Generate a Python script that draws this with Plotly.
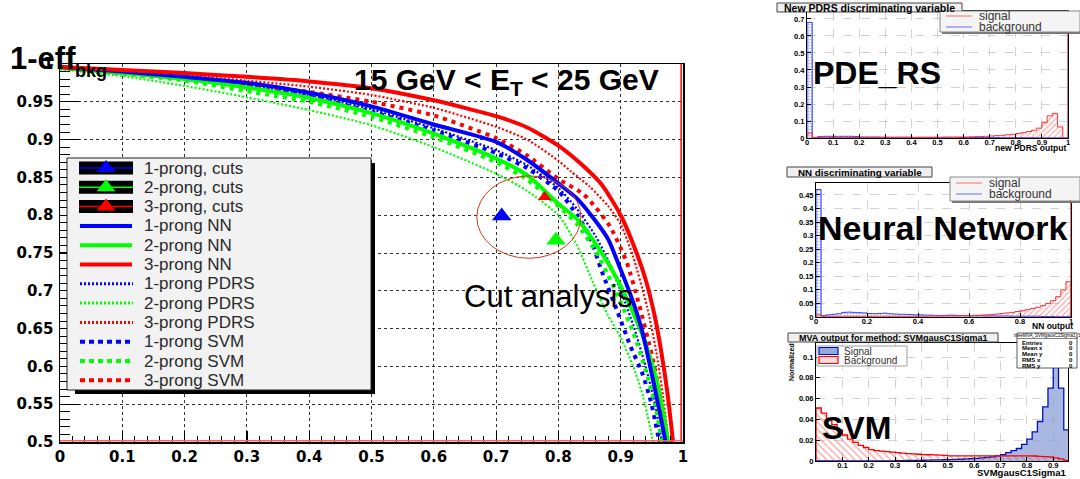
import plotly.graph_objects as go

W, H = 1080, 479

# ---------------- main ROC data (signal efficiency vs 1 - background efficiency) -------------
nn1_x = [0, 0.1, 0.2, 0.3, 0.4, 0.5, 0.6, 0.7, 0.75, 0.8, 0.83, 0.86, 0.88, 0.9, 0.92, 0.935, 0.955, 0.965, 0.972]
nn1_y = [0.996, 0.99, 0.983, 0.975, 0.962, 0.944, 0.92, 0.897, 0.873, 0.842, 0.822, 0.792, 0.768, 0.728, 0.685, 0.645, 0.57, 0.53, 0.5]
nn2_x = [0, 0.1, 0.2, 0.3, 0.4, 0.5, 0.6, 0.7, 0.75, 0.8, 0.83, 0.86, 0.89, 0.92, 0.94, 0.955, 0.967, 0.976]
nn2_y = [0.995, 0.988, 0.98, 0.969, 0.955, 0.935, 0.908, 0.875, 0.853, 0.815, 0.795, 0.762, 0.722, 0.671, 0.63, 0.59, 0.545, 0.5]
nn3_x = [0, 0.1, 0.2, 0.3, 0.4, 0.5, 0.6, 0.7, 0.75, 0.8, 0.84, 0.87, 0.9, 0.92, 0.94, 0.955, 0.965, 0.975, 0.984]
nn3_y = [0.996, 0.992, 0.988, 0.983, 0.977, 0.968, 0.952, 0.931, 0.916, 0.892, 0.865, 0.84, 0.8, 0.762, 0.715, 0.665, 0.62, 0.565, 0.5]

pdrs1_x = [0, 0.1, 0.2, 0.3, 0.4, 0.5, 0.6, 0.7, 0.75, 0.8, 0.83, 0.86, 0.88, 0.9, 0.92, 0.94, 0.955, 0.966]
pdrs1_y = [0.995, 0.989, 0.981, 0.972, 0.959, 0.94, 0.915, 0.886, 0.866, 0.836, 0.808, 0.772, 0.74, 0.7, 0.655, 0.6, 0.55, 0.5]
pdrs2_x = [0, 0.1, 0.2, 0.3, 0.4, 0.5, 0.6, 0.7, 0.75, 0.8, 0.83, 0.856, 0.878, 0.9, 0.92, 0.936, 0.952]
pdrs2_y = [0.993, 0.984, 0.971, 0.956, 0.939, 0.919, 0.89, 0.855, 0.832, 0.8, 0.76, 0.71, 0.67, 0.638, 0.6, 0.56, 0.5]
pdrs3_x = [0, 0.1, 0.2, 0.3, 0.4, 0.5, 0.6, 0.7, 0.75, 0.8, 0.82, 0.85, 0.88, 0.9, 0.92, 0.942, 0.957, 0.968, 0.977]
pdrs3_y = [0.995, 0.99, 0.985, 0.978, 0.97, 0.959, 0.942, 0.917, 0.9, 0.872, 0.858, 0.838, 0.812, 0.788, 0.745, 0.68, 0.62, 0.56, 0.5]

svm1_x = [0, 0.1, 0.2, 0.3, 0.4, 0.5, 0.6, 0.7, 0.75, 0.8, 0.83, 0.85, 0.87, 0.895, 0.915, 0.935, 0.948, 0.956, 0.962]
svm1_y = [0.995, 0.988, 0.98, 0.97, 0.957, 0.937, 0.912, 0.882, 0.862, 0.832, 0.8, 0.772, 0.725, 0.672, 0.628, 0.59, 0.555, 0.525, 0.5]
svm2_x = [0, 0.1, 0.2, 0.3, 0.4, 0.5, 0.6, 0.7, 0.75, 0.8, 0.83, 0.86, 0.88, 0.9, 0.92, 0.94, 0.955, 0.966]
svm2_y = [0.995, 0.987, 0.978, 0.964, 0.95, 0.93, 0.903, 0.87, 0.847, 0.812, 0.788, 0.752, 0.72, 0.685, 0.645, 0.595, 0.55, 0.5]
svm3_x = [0, 0.1, 0.2, 0.3, 0.4, 0.5, 0.6, 0.7, 0.75, 0.8, 0.84, 0.86, 0.883, 0.91, 0.93, 0.95, 0.963, 0.972]
svm3_y = [0.995, 0.988, 0.981, 0.973, 0.963, 0.95, 0.932, 0.902, 0.879, 0.848, 0.828, 0.81, 0.785, 0.737, 0.68, 0.615, 0.56, 0.5]

cut_x = [0.709, 0.796, 0.778]
cut_y = [0.799, 0.767, 0.824]

legend_labels = ["1-prong, cuts", "2-prong, cuts", "3-prong, cuts",
                 "1-prong NN", "2-prong NN", "3-prong NN",
                 "1-prong PDRS", "2-prong PDRS", "3-prong PDRS",
                 "1-prong SVM", "2-prong SVM", "3-prong SVM"]

# ---------------- small panels: histograms ----------------
pdrs_bin = 0.02
pdrs_signal = [0.03, 0.004, 0.003, 0.003, 0.003, 0.003, 0.003, 0.003, 0.003, 0.003,
               0.003, 0.003, 0.003, 0.003, 0.003, 0.003, 0.003, 0.003, 0.003, 0.003,
               0.003, 0.004, 0.004, 0.004, 0.004, 0.004, 0.005, 0.005, 0.005, 0.006,
               0.006, 0.007, 0.008, 0.009, 0.01, 0.012, 0.014, 0.016, 0.019, 0.022,
               0.026, 0.031, 0.038, 0.046, 0.058, 0.09, 0.13, 0.145, 0.065, 0.0]
pdrs_background = [0.68, 0.002, 0.008, 0.01, 0.01, 0.01, 0.01, 0.01, 0.01, 0.009,
                   0.006, 0.006, 0.006, 0.006, 0.005, 0.005, 0.005, 0.005, 0.005, 0.005,
                   0.004, 0.004, 0.004, 0.004, 0.004, 0.004, 0.004, 0.004, 0.004, 0.003,
                   0.003, 0.003, 0.003, 0.003, 0.003, 0.003, 0.003, 0.002, 0.002, 0.002,
                   0.002, 0.002, 0.002, 0.002, 0.001, 0.001, 0.001, 0.001, 0.001, 0.0]

nn_bin = 0.02
nn_signal = [0.008, 0.003, 0.003, 0.003, 0.003, 0.003, 0.003, 0.003, 0.003, 0.003,
             0.003, 0.003, 0.003, 0.003, 0.003, 0.003, 0.003, 0.003, 0.003, 0.003,
             0.003, 0.003, 0.004, 0.004, 0.004, 0.004, 0.004, 0.004, 0.005, 0.005,
             0.005, 0.006, 0.007, 0.008, 0.009, 0.011, 0.013, 0.015, 0.017, 0.02,
             0.023, 0.027, 0.031, 0.036, 0.042, 0.05, 0.06, 0.075, 0.1, 0.13]
nn_background = [0.47, 0.005, 0.008, 0.01, 0.012, 0.017, 0.018, 0.017, 0.016, 0.015,
                 0.013, 0.012, 0.013, 0.014, 0.012, 0.011, 0.01, 0.01, 0.009, 0.008,
                 0.008, 0.007, 0.007, 0.006, 0.006, 0.006, 0.007, 0.006, 0.005, 0.005,
                 0.005, 0.005, 0.005, 0.004, 0.004, 0.004, 0.004, 0.004, 0.003, 0.003,
                 0.003, 0.003, 0.003, 0.003, 0.002, 0.002, 0.002, 0.001, 0.001, 0.001]

svm_bin = 0.02
svm_signal = [0, 0, 0, 0, 0, 0, 0, 0, 0, 0,
              0, 0, 0, 0, 0, 0.0003, 0.0003, 0.0005, 0.0005, 0.0005,
              0.0007, 0.0008, 0.001, 0.001, 0.0012, 0.0013, 0.0015, 0.0017, 0.002, 0.0022,
              0.0025, 0.003, 0.0035, 0.004, 0.005, 0.006, 0.008, 0.01, 0.012, 0.016,
              0.021, 0.028, 0.038, 0.052, 0.07, 0.092, 0.07, 0.03]
svm_background = [0.051, 0.046, 0.04, 0.035, 0.03, 0.025, 0.021, 0.018, 0.015, 0.013,
                  0.011, 0.01, 0.0095, 0.009, 0.0085, 0.008, 0.0075, 0.007, 0.0068, 0.0065,
                  0.0062, 0.006, 0.0058, 0.0056, 0.0055, 0.005, 0.005, 0.005, 0.005, 0.005,
                  0.005, 0.005, 0.005, 0.005, 0.005, 0.005, 0.005, 0.005, 0.005, 0.005,
                  0.005, 0.0048, 0.0045, 0.0042, 0.004, 0.003, 0.002, 0.0005]

stats_labels = ["Entries", "Mean x", "Mean y", "RMS x", "RMS y"]

BLUE, GREEN, RED = "#0000ff", "#00ff00", "#ff0000"
FONT = "Liberation Sans"


def step_xy(values, width):
    edges = [i * width for i in range(len(values) + 1)]
    return [edges[0]] + edges, [0] + list(values) + [0]


def P(x, y):
    return x / W, 1 - y / H


fig = go.Figure()

# ---------------- main curves ----------------
styles = {"PDRS": dict(width=2.2, dash="2px,2px"),
          "SVM": dict(width=4, dash="4px,5px"),
          "NN": dict(width=4, dash="solid")}
curves = [
    ("1-prong PDRS", pdrs1_x, pdrs1_y, BLUE, "PDRS"),
    ("2-prong PDRS", pdrs2_x, pdrs2_y, GREEN, "PDRS"),
    ("3-prong PDRS", pdrs3_x, pdrs3_y, RED, "PDRS"),
    ("1-prong SVM", svm1_x, svm1_y, BLUE, "SVM"),
    ("2-prong SVM", svm2_x, svm2_y, GREEN, "SVM"),
    ("3-prong SVM", svm3_x, svm3_y, RED, "SVM"),
    ("2-prong NN", nn2_x, nn2_y, GREEN, "NN"),
    ("1-prong NN", nn1_x, nn1_y, BLUE, "NN"),
    ("3-prong NN", nn3_x, nn3_y, RED, "NN"),
]
for name, xs, ys, col, kind in curves:
    fig.add_trace(go.Scatter(x=xs, y=ys, mode="lines", name=name, showlegend=False,
                             line=dict(color=col, shape="spline", smoothing=0.6, **styles[kind]),
                             xaxis="x", yaxis="y"))

cut_colors = [BLUE, GREEN, RED]
cut_sizes = [17, 17, 12]
fig.add_trace(go.Scatter(x=cut_x, y=cut_y, mode="markers", showlegend=False,
                         marker=dict(symbol="triangle-up", size=cut_sizes, color=cut_colors,
                                     opacity=1, line=dict(width=0)),
                         xaxis="x", yaxis="y"))

shapes = []
# ellipse around cut points
shapes.append(dict(type="circle", xref="x", yref="y", x0=0.669, x1=0.836, y0=0.743, y1=0.852,
                   line=dict(color="#d83a1a", width=1)))
# red lines on right and bottom edge
shapes.append(dict(type="line", xref="x", yref="y", x0=0.997, x1=0.997, y0=0.5, y1=1.0,
                   line=dict(color=RED, width=1.5)))
shapes.append(dict(type="line", xref="x", yref="y", x0=0, x1=1, y0=0.5015, y1=0.5015,
                   line=dict(color="#ff6060", width=1.5)))

# ---------------- custom legend (overlay pixel axes x5/y5) ----------------
shapes.append(dict(type="rect", xref="x5", yref="y5", x0=75, x1=375, y0=163, y1=394,
                   fillcolor="black", line=dict(width=0), layer="below"))
shapes.append(dict(type="rect", xref="x5", yref="y5", x0=67, x1=371, y0=158, y1=390,
                   fillcolor="#f2f2f2", line=dict(color="#222", width=1), layer="below"))

row_y0, row_dy = 168, 19.3
tri_x, tri_y, tri_c = [], [], []
annotations = []
leg_colors = [BLUE, GREEN, RED] * 4
for i, lab in enumerate(legend_labels):
    yy = row_y0 + i * row_dy
    col = leg_colors[i]
    if i < 3:
        shapes.append(dict(type="rect", xref="x5", yref="y5", x0=79, x1=133, y0=yy - 6.5, y1=yy + 6.5,
                           fillcolor="black", line=dict(width=0), layer="below"))
        shapes.append(dict(type="line", xref="x5", yref="y5", x0=79, x1=133, y0=yy, y1=yy,
                           line=dict(color=col, width=1.5), layer="below"))
        tri_x.append(106)
        tri_y.append(yy)
        tri_c.append(col)
    elif i < 6:
        shapes.append(dict(type="line", xref="x5", yref="y5", x0=80, x1=132, y0=yy, y1=yy,
                           line=dict(color=col, width=4), layer="below"))
    elif i < 9:
        shapes.append(dict(type="line", xref="x5", yref="y5", x0=80, x1=133, y0=yy, y1=yy,
                           line=dict(color=col, width=3, dash="2px,2px"), layer="below"))
    else:
        shapes.append(dict(type="line", xref="x5", yref="y5", x0=80, x1=133, y0=yy, y1=yy,
                           line=dict(color=col, width=4, dash="5px,4px"), layer="below"))
    ax, ay = P(142, yy)
    annotations.append(dict(x=ax, y=ay, xref="paper", yref="paper", text=lab, showarrow=False,
                            xanchor="left", yanchor="middle",
                            font=dict(family=FONT, size=17, color="#2a2a2a")))

fig.add_trace(go.Scatter(x=tri_x, y=tri_y, mode="markers", showlegend=False,
                         marker=dict(symbol="triangle-up", size=16, color=tri_c, opacity=1,
                                     line=dict(width=0)),
                         xaxis="x5", yaxis="y5"))


def ann(px_, py_, text, size, bold=False, xanchor="left", yanchor="middle", color="black",
        family=FONT, angle=0):
    ax, ay = P(px_, py_)
    annotations.append(dict(x=ax, y=ay, xref="paper", yref="paper", text=text, showarrow=False,
                            xanchor=xanchor, yanchor=yanchor, textangle=angle,
                            font=dict(family=family, size=size, color=color,
                                      weight="bold" if bold else "normal")))


ann(8, 58, "1-eff", 31, bold=True)
ann(73, 71, "bkg", 18, bold=True)
ann(352, 82, "15 GeV < E<sub>T</sub> < 25 GeV", 30, bold=True)
ann(462, 296, "Cut analysis", 31)

# ---------------- small panels ----------------
panel_specs = [
    ("2", (807, 1068), (138, 11), [0, 1], [0, 0.747], 0.1, 0.1, None),
    ("3", (816, 1071), (317, 183), [0, 1], [0, 0.494], 0.05, 0.2, None),
    ("4", (816, 1068), (461, 343), [0, 0.956], [0, 0.1135], 0.02, None,
     [0.1, 0.2, 0.3, 0.4, 0.5, 0.6, 0.7, 0.8, 0.9]),
]
layout_axes = {}
for aid, (xl, xr), (yb, yt), xrng, yrng, ydt, xdt, xtv in panel_specs:
    xa = dict(domain=[xl / W, xr / W], range=xrng, anchor="y" + aid, showline=True, mirror=True,
              linecolor="black", linewidth=1, ticks="inside", ticklen=4, tickcolor="black",
              showgrid=True, gridcolor="#c8c8c8", griddash="dash", gridwidth=0.8, zeroline=False,
              tickfont=dict(family=FONT, size=7.5, color="black", weight="bold"), automargin=False,
              ticklabelstandoff=-3, fixedrange=True)
    if xtv is not None:
        xa["tickvals"] = xtv
    else:
        xa["dtick"] = xdt
        xa["tick0"] = 0
    ya = dict(domain=[1 - yb / H, 1 - yt / H], range=yrng, anchor="x" + aid, showline=True, mirror=True,
              linecolor="black", linewidth=1, ticks="inside", ticklen=4, tickcolor="black",
              dtick=ydt, tick0=0, showgrid=True, gridcolor="#c8c8c8", griddash="dash", gridwidth=0.8,
              zeroline=False, tickfont=dict(family=FONT, size=7.5, color="black", weight="bold"),
              automargin=False, fixedrange=True)
    layout_axes["xaxis" + aid] = xa
    layout_axes["yaxis" + aid] = ya

# PDRS panel
bx, by = step_xy(pdrs_background, pdrs_bin)
fig.add_trace(go.Scatter(x=bx, y=by, mode="lines", line=dict(color="#3040ff", width=1, shape="hv"),
                         fill="tozeroy", fillpattern=dict(shape="+", fgcolor="#6070ff", bgcolor="rgba(0,0,0,0)",
                                                          size=3, solidity=0.4),
                         showlegend=False, xaxis="x2", yaxis="y2"))
sx, sy = step_xy(pdrs_signal, pdrs_bin)
fig.add_trace(go.Scatter(x=sx, y=sy, mode="lines", line=dict(color="#ff3030", width=1, shape="hv"),
                         fill="tozeroy", fillpattern=dict(shape="/", fgcolor="#ff5050", bgcolor="rgba(0,0,0,0)",
                                                          size=4, solidity=0.3),
                         showlegend=False, xaxis="x2", yaxis="y2"))
# NN panel
bx, by = step_xy(nn_background, nn_bin)
fig.add_trace(go.Scatter(x=bx, y=by, mode="lines", line=dict(color="#3040ff", width=1, shape="hv"),
                         fill="tozeroy", fillpattern=dict(shape="+", fgcolor="#6070ff", bgcolor="rgba(0,0,0,0)",
                                                          size=3, solidity=0.4),
                         showlegend=False, xaxis="x3", yaxis="y3"))
sx, sy = step_xy(nn_signal, nn_bin)
fig.add_trace(go.Scatter(x=sx, y=sy, mode="lines", line=dict(color="#ff3030", width=1, shape="hv"),
                         fill="tozeroy", fillpattern=dict(shape="/", fgcolor="#ff5050", bgcolor="rgba(0,0,0,0)",
                                                          size=4, solidity=0.3),
                         showlegend=False, xaxis="x3", yaxis="y3"))
# SVM panel
sx, sy = step_xy(svm_signal, svm_bin)
fig.add_trace(go.Scatter(x=sx, y=sy, mode="lines", line=dict(color="#0010c0", width=1.3, shape="hv"),
                         fill="tozeroy", fillcolor="rgba(140,160,215,0.75)",
                         showlegend=False, xaxis="x4", yaxis="y4"))
bx, by = step_xy(svm_background, svm_bin)
fig.add_trace(go.Scatter(x=bx, y=by, mode="lines", line=dict(color="#ff0000", width=1.3, shape="hv"),
                         fill="tozeroy", fillpattern=dict(shape="\\", fgcolor="#ff4040", bgcolor="rgba(0,0,0,0)",
                                                          size=5, solidity=0.25),
                         showlegend=False, xaxis="x4", yaxis="y4"))

# red vertical edges at x=1 in PDRS / NN panels
shapes.append(dict(type="line", xref="x2", yref="y2", x0=1, x1=1, y0=0, y1=0.62,
                   line=dict(color="#e02020", width=1.2)))
shapes.append(dict(type="line", xref="x3", yref="y3", x0=1, x1=1, y0=0, y1=0.43,
                   line=dict(color="#e02020", width=1.2)))

# panel title boxes
for (x0, x1, y0, y1, t, fs) in [(777, 962, 3, 12, "New PDRS discriminating variable", 10.5),
                                (787, 932, 167, 177, "NN discriminating variable", 9.8),
                                (788, 998, 333, 342, "MVA output for method: SVMgausC1Sigma1", 9)]:
    shapes.append(dict(type="rect", xref="x5", yref="y5", x0=x0, x1=x1, y0=y0, y1=y1,
                       fillcolor="#efefef", line=dict(color="#444", width=1), layer="below"))
    ann((x0 + x1) / 2, (y0 + y1) / 2 + 0.5, t, fs, bold=True, xanchor="center")

# panel legends (signal/background)
for (x0, y0, y1, yr1, yr2) in [(940, 11, 32, 16, 27), (950, 177, 201, 183, 194)]:
    shapes.append(dict(type="rect", xref="x5", yref="y5", x0=x0 + 2, x1=1082, y0=y0 + 2, y1=y1 + 2,
                       fillcolor="#777", line=dict(width=0), layer="below"))
    shapes.append(dict(type="rect", xref="x5", yref="y5", x0=x0, x1=1080, y0=y0, y1=y1,
                       fillcolor="#f4f4f4", line=dict(color="#888", width=1), layer="below"))
    shapes.append(dict(type="line", xref="x5", yref="y5", x0=x0 + 6, x1=x0 + 32, y0=yr1, y1=yr1,
                       line=dict(color="#ff8080", width=1.2), layer="below"))
    shapes.append(dict(type="line", xref="x5", yref="y5", x0=x0 + 6, x1=x0 + 32, y0=yr2, y1=yr2,
                       line=dict(color="#8080ff", width=1.2), layer="below"))
    ann(x0 + 37, yr1, "signal", 12, color="#333")
    ann(x0 + 37, yr2, "background", 12, color="#333")

# SVM legend
shapes.append(dict(type="rect", xref="x5", yref="y5", x0=817, x1=907, y0=346, y1=366,
                   fillcolor="white", line=dict(color="#888", width=0.8), layer="below"))
shapes.append(dict(type="rect", xref="x5", yref="y5", x0=819, x1=838, y0=347.5, y1=354.5,
                   fillcolor="rgba(140,160,215,0.9)", line=dict(color="#0010c0", width=1.2), layer="below"))
shapes.append(dict(type="rect", xref="x5", yref="y5", x0=819, x1=838, y0=356.5, y1=363.5,
                   fillcolor="#ffd8d8", line=dict(color="#ff0000", width=1.2), layer="below"))
ann(842, 351, "Signal", 10, color="#333")
ann(842, 360, "Background", 10, color="#333")

# stats box
shapes.append(dict(type="rect", xref="x5", yref="y5", x0=1017, x1=1077, y0=333, y1=368,
                   fillcolor="white", line=dict(color="#333", width=0.8), layer="below"))
shapes.append(dict(type="line", xref="x5", yref="y5", x0=1017, x1=1077, y0=338.5, y1=338.5,
                   line=dict(color="#333", width=0.6), layer="below"))
ann(1047, 335.7, "ttreeMVA_SVMgausC1Sigma1_S", 4.5, xanchor="center")
for i, lab in enumerate(stats_labels):
    ann(1020, 342.5 + i * 5.8, lab, 6, bold=True)
    ann(1075, 342.5 + i * 5.8, "0", 6, bold=True, xanchor="right")

# panel axis titles
ann(1068, 148, "new PDRS output", 8.5, bold=True, xanchor="right")
ann(1075, 326, "NN output", 8.5, bold=True, xanchor="right")
ann(1068, 472, "SVMgausC1Sigma1", 9.5, bold=True, xanchor="right")
ann(791, 362, "Normalized", 7, bold=True, xanchor="center", angle=-90)

# big overlay labels
ann(811, 73, "PDE_RS", 32, bold=True)
ann(816, 228, "Neural Network", 34, bold=True)
ann(820, 428, "SVM", 32, bold=True)

fig.update_layout(
    width=W, height=H, margin=dict(l=0, r=0, t=0, b=0),
    paper_bgcolor="white", plot_bgcolor="rgba(0,0,0,0)", showlegend=False,
    xaxis=dict(domain=[60 / W, 683 / W], range=[0, 1], dtick=0.1, tick0=0, anchor="y",
               showline=True, mirror=True, linecolor="black", linewidth=1.5,
               ticks="inside", ticklen=11, tickwidth=1.2, tickcolor="black",
               minor=dict(dtick=0.02, ticklen=6, ticks="inside", tickcolor="black", tickwidth=1),
               showgrid=True, gridcolor="#333", griddash="dot", gridwidth=1, zeroline=False,
               tickfont=dict(family="DejaVu Sans", size=15, color="black", weight="bold"),
               automargin=False, fixedrange=True),
    yaxis=dict(domain=[1 - 442 / H, 1 - 64 / H], range=[0.5, 1.0], dtick=0.05, tick0=0.5, anchor="x",
               showline=True, mirror=True, linecolor="black", linewidth=1.5,
               ticks="inside", ticklen=19, tickwidth=1.2, tickcolor="black",
               minor=dict(dtick=0.01, ticklen=10, ticks="inside", tickcolor="black", tickwidth=1),
               showgrid=True, gridcolor="#333", griddash="dot", gridwidth=1, zeroline=False,
               tickfont=dict(family="DejaVu Sans", size=15, color="black", weight="bold"),
               ticklabelstandoff=2, automargin=False, fixedrange=True),
    xaxis5=dict(domain=[0, 1], range=[0, W], visible=False, anchor="y5", fixedrange=True),
    yaxis5=dict(domain=[0, 1], range=[H, 0], visible=False, anchor="x5", fixedrange=True),
    shapes=shapes, annotations=annotations,
    **layout_axes,
)

fig.write_html("out.html", config={"displayModeBar": False, "staticPlot": True},
               post_script="document.body.style.margin='0px';")
